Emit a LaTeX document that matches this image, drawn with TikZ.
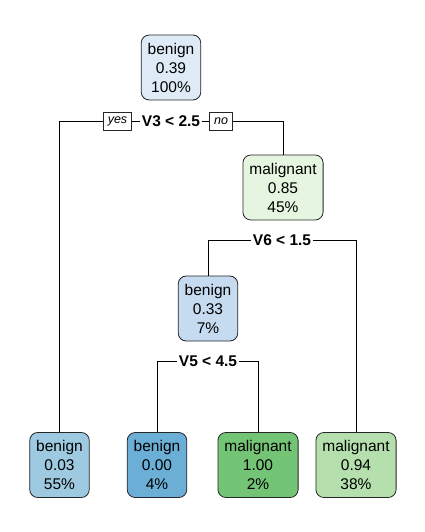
\documentclass[tikz,border=0pt]{standalone}
\usepackage{fontspec}
\setmainfont{Liberation Sans}
\usetikzlibrary{calc}

\definecolor{rootfill}{HTML}{DEEBF7}
\definecolor{malfill}{HTML}{E5F5E0}
\definecolor{midfill}{HTML}{C6DBEF}
\definecolor{leafa}{HTML}{9ECAE1}
\definecolor{leafb}{HTML}{6BAED6}
\definecolor{leafc}{HTML}{74C476}
\definecolor{leafd}{HTML}{B5E0AD}

\begin{document}
\begin{tikzpicture}[x=1pt, y=-1pt,
  treebox/.style={draw=black!85, line width=0.8pt, rounded corners=8pt, align=center,
    font=\fontsize{15.5}{19}\selectfont, minimum height=65pt, inner xsep=6.5pt},
  splitlab/.style={font=\fontsize{15.5}{19}\selectfont\bfseries, inner xsep=2pt, inner ysep=1pt},
  yesno/.style={draw=black!85, line width=0.6pt, font=\fontsize{12.5}{14}\selectfont\itshape,
    inner xsep=4.5pt, inner ysep=0pt, minimum height=18pt},
  edge/.style={line width=0.8pt}]

\useasboundingbox (0, 0) rectangle (425, 532);



\node (root) at (171, 67.5) [treebox, fill=rootfill] {benign\\0.39\\100\%};

\node (n2) at (283, 187.5) [treebox, fill=malfill] {malignant\\0.85\\45\%};

\node (n3) at (208, 308.5) [treebox, fill=midfill] {benign\\0.33\\7\%};



\node (leaf1) at (59.5, 465) [treebox, fill=leafa] {benign\\0.03\\55\%};
\node (leaf2) at (157, 465) [treebox, fill=leafb] {benign\\0.00\\4\%};
\node (leaf3) at (258, 465) [treebox, fill=leafc] {malignant\\1.00\\2\%};
\node (leaf4) at (356, 465) [treebox, fill=leafd] {malignant\\0.94\\38\%};



\node (split1) at (171, 121) [splitlab] {V3 < 2.5};
\node (yes) at (117.5, 121) [yesno] {yes};
\node (no) at (221, 121) [yesno] {no};

\node (split2) at (282, 240) [splitlab] {V6 < 1.5};

\node (split3) at (208, 361) [splitlab] {V5 < 4.5};



\draw [edge] (leaf1.north) |- (yes.west);
\draw [edge] (yes.east) -- (split1.west);
\draw [edge] (split1.east) -- (no.west);
\draw [edge] (no.east) -| (n2.north);

\draw [edge] (n3.north) |- (split2.west);
\draw [edge] (split2.east) -| (leaf4.north);

\draw [edge] (leaf2.north) |- (split3.west);
\draw [edge] (split3.east) -| (leaf3.north);

\end{tikzpicture}
\end{document}
